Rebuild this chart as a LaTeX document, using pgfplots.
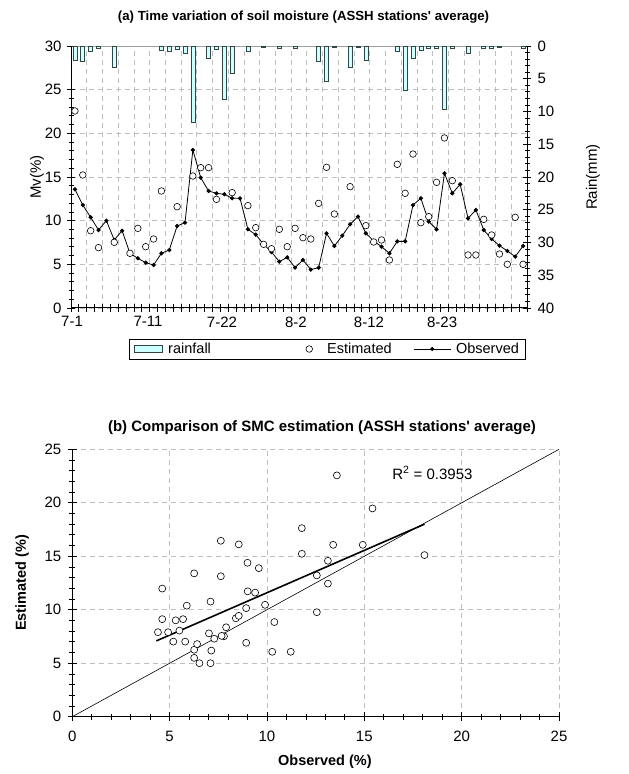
\documentclass[border=0pt]{standalone}
\usepackage{fontspec}
\setmainfont{Liberation Sans}
\usepackage{pgfplots}
\pgfplotsset{compat=1.18}
\definecolor{rainc}{RGB}{204,255,255}
\definecolor{raind}{RGB}{50,70,70}
\definecolor{gridc}{RGB}{190,190,190}
\newcommand\tfont{\fontsize{15}{18}\selectfont}
\begin{document}
\begin{tikzpicture}
\useasboundingbox (0pt,0pt) rectangle (629pt,774pt);
\pgfplotsset{
  /pgf/number format/assume math mode=true,
  every tick label/.append style={font=\tfont},
}
% ---------------- (a) left axis: soil moisture ----------------
\begin{axis}[
  at={(299pt,597pt)}, anchor=center,
  scale only axis, width=456pt, height=262pt,
  xmin=-0.5, xmax=57.5, ymin=0, ymax=30,
  axis x line*=bottom, axis y line*=left,
  axis line style={black, line width=1pt},
  xtick={-0.5,0.5,...,57.5}, xticklabels={},
  minor xtick={1.5,3.5,...,55.5},
  xminorgrids=true, xmajorgrids=false,
  ytick={0,5,...,25}, minor y tick num=4,
  extra y ticks={30}, extra y tick labels={30},
  extra y tick style={ymajorgrids=true, major grid style={solid, gray!75, line width=0.9pt}},
  ymajorgrids=true,
  grid style={gridc, dash pattern=on 5pt off 4pt, line width=0.8pt},
  tick align=center, major tick length=8pt, minor tick length=5pt,
  tick style={black, line width=0.8pt},
  yticklabel style={xshift=-2pt},
  ylabel={Mv(\%)},
  every axis y label/.style={at={(axis description cs:-0.0746,0.5)}, anchor=center, rotate=90, font=\tfont},
  title={(a) Time variation of soil moisture (ASSH stations\textquotesingle\ average)},
  every axis title/.style={at={(axis description cs:0.51,1)}, yshift=29pt, anchor=center, font=\fontsize{13.2}{15}\selectfont\bfseries},
]
% Observed
\addplot[black, line width=0.8pt, mark=*, mark size=1.7pt] table {
x y
0 13.59
1 11.79
2 10.38
3 8.93
4 10.0
5 7.79
6 8.85
7 6.26
8 5.69
9 5.19
10 4.92
11 6.26
12 6.64
13 9.39
14 9.77
15 18.09
16 14.92
17 13.40
18 13.13
19 13.02
20 12.56
21 12.56
22 9.01
23 8.40
24 7.29
25 6.41
26 5.31
27 5.80
28 4.62
29 5.50
30 4.40
31 4.62
32 8.55
33 7.10
34 8.28
35 9.58
36 10.46
37 8.55
38 7.67
39 7.02
40 6.26
41 7.63
42 7.63
43 11.79
44 12.56
45 9.90
46 9.00
47 15.42
48 13.13
49 14.16
50 10.27
51 11.22
52 8.93
53 7.90
54 7.14
55 6.53
56 5.88
57 7.10
};
% Estimated
\addplot[only marks, mark=*, mark size=3.3pt, mark options={fill=white, draw=black, line width=0.6pt}] table {
x y
0 22.56
1 15.23
2 8.85
3 6.91
5 7.52
7 6.26
8 9.12
9 7.02
10 7.90
11 13.40
13 11.60
15 15.11
16 16.07
17 16.07
18 12.44
20 13.21
22 11.72
23 9.20
24 7.29
25 6.79
26 9.01
27 7.02
28 9.12
29 8.05
30 7.90
31 11.98
32 16.11
33 10.76
35 13.89
37 9.43
38 7.56
39 7.79
40 5.50
41 16.45
42 13.13
43 17.63
44 9.77
45 10.46
46 14.39
47 19.47
48 14.58
50 6.07
51 6.07
52 10.15
53 8.36
54 6.18
55 5.00
56 10.38
57 5.00
};
\end{axis}
% ---------------- (a) right axis: rainfall ----------------
\begin{axis}[
  at={(299pt,597pt)}, anchor=center,
  scale only axis, width=456pt, height=262pt,
  xmin=-0.5, xmax=57.5, ymin=0, ymax=40, y dir=reverse,
  hide x axis, axis y line*=right,
  axis line style={black, line width=1pt},
  ytick={0,5,...,40}, minor y tick num=4,
  tick align=center, major tick length=8pt, minor tick length=5pt,
  tick style={black, line width=0.8pt},
  yticklabel style={xshift=3pt},
  ylabel={Rain(mm)},
  every axis y label/.style={at={(axis description cs:1.1447,0.5)}, anchor=center, rotate=90, font=\tfont},
  legend columns=3,
  legend style={at={(axis description cs:0.562,-0.1565)}, anchor=center, draw=black, line width=0.6pt,
    font=\fontsize{14.5}{16}\selectfont, inner xsep=4pt, inner ysep=2pt,
    /tikz/every even column/.append style={column sep=4pt}},
]
\addplot[ybar, bar width=4pt, bar shift=0pt, fill=rainc, draw=raind, line width=0.6pt,
  legend image code/.code={\draw[fill=rainc, draw=raind, line width=0.6pt] (0pt,-3.5pt) rectangle (28pt,3.5pt);}] table {
x y
0 2.14
1 2.40
2 0.87
3 0.36
5 3.30
11 0.60
12 0.87
13 0.50
14 1.12
15 11.65
17 1.88
18 0.50
19 8.14
20 4.17
22 0.87
24 0.15
26 0.36
28 0.36
31 2.40
32 5.34
33 0.15
35 3.30
36 0.15
37 2.14
41 0.87
42 6.80
43 1.88
44 0.60
45 0.36
46 0.36
47 9.60
48 0.36
50 1.10
52 0.36
53 0.36
54 0.15
57 0.36
};
\addlegendentry{\hspace*{4pt}\makebox[121pt][l]{rainfall}}
\addlegendimage{legend image code/.code={\path[draw=none, fill=none] (0pt,-1pt) rectangle (28pt,1pt); \draw[black, fill=white, line width=0.6pt] (14pt,0pt) circle (3.3pt);}}
\addlegendentry{\hspace*{2pt}\makebox[80pt][l]{Estimated}}
\addlegendimage{legend image code/.code={\draw[black, line width=0.8pt] (0pt,0pt) -- (37pt,0pt); \fill[black] (18.5pt,0pt) circle (1.7pt);}}
\addlegendentry{\hspace*{3pt}Observed}
\end{axis}
% ---------------- (a) date labels ----------------
\begin{axis}[
  at={(299pt,597pt)}, anchor=center,
  scale only axis, width=456pt, height=262pt,
  xmin=-0.5, xmax=57.5, ymin=0, ymax=1,
  hide y axis, axis x line*=bottom, axis line style={draw=none},
  major tick length=0pt,
  xtick={-0.37,9.29,18.7,28.1,37.4,46.7},
  xticklabels={7-1,7-11,7-22,8-2,8-12,8-23},
  xticklabel style={yshift=-5pt},
]
\end{axis}
% ---------------- (b) scatter ----------------
\begin{axis}[
  at={(315.65pt,191pt)}, anchor=center,
  scale only axis, width=486.7pt, height=267.4pt,
  xmin=0, xmax=25, ymin=0, ymax=25,
  axis x line*=bottom, axis y line*=left,
  axis line style={black, line width=1.1pt},
  xtick={0,5,...,25}, ytick={0,5,...,25}, minor tick num=4,
  grid=major,
  grid style={gridc, dash pattern=on 5pt off 4pt, line width=0.8pt},
  tick align=center, major tick length=9pt, minor tick length=6pt,
  tick style={black, line width=0.8pt},
  xticklabel style={yshift=-6pt},
  yticklabel style={xshift=-3pt},
  xlabel={Observed (\%)},
  every axis x label/.style={at={(axis description cs:0.519,-0.169)}, anchor=center, font=\fontsize{14.5}{16}\selectfont\bfseries},
  ylabel={Estimated (\%)},
  every axis y label/.style={at={(axis description cs:-0.103,0.5)}, anchor=center, rotate=90, font=\fontsize{14.5}{16}\selectfont\bfseries},
  title={(b) Comparison of SMC estimation (ASSH stations\textquotesingle\ average)},
  every axis title/.style={at={(axis description cs:0.513,1)}, yshift=22pt, anchor=center, font=\fontsize{15}{17}\selectfont\bfseries},
]
\addplot[black, line width=0.6pt] coordinates {(0,0) (25,25)};
\addplot[black, line width=1.6pt] coordinates {(4.32,7.09) (18.09,18.0)};
\addplot[only marks, mark=*, mark size=3.5pt, mark options={fill=white, draw=black, line width=0.6pt}] table {
x y
13.59 22.56
11.79 15.23
10.38 8.85
8.93 6.91
7.79 7.52
6.26 6.26
5.69 9.12
5.19 7.02
4.92 7.90
6.26 13.40
9.39 11.60
18.09 15.11
14.92 16.07
13.40 16.07
13.13 12.44
12.56 13.21
9.01 11.72
8.40 9.20
7.29 7.29
6.41 6.79
5.31 9.01
5.80 7.02
4.62 9.12
5.50 8.05
4.40 7.90
4.62 11.98
8.55 16.11
7.10 10.76
9.58 13.89
8.55 9.43
7.67 7.56
7.02 7.79
6.26 5.50
7.63 16.45
7.63 13.13
11.79 17.63
12.56 9.77
9.90 10.46
9.00 14.39
15.42 19.47
13.13 14.58
10.27 6.07
11.22 6.07
8.93 10.15
7.90 8.36
7.14 6.18
6.53 5.00
5.88 10.38
7.10 5.00
};
\node[font=\tfont] at (axis cs:18.5,22.8) {R\textsuperscript{2} = 0.3953};
\end{axis}
\end{tikzpicture}
\end{document}
